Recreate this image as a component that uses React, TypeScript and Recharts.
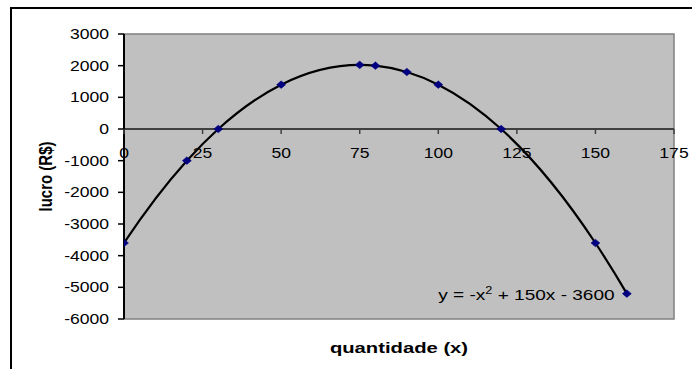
import React from "react";
import {
  ComposedChart,
  XAxis,
  YAxis,
  Line,
  Scatter,
  ReferenceArea,
  ReferenceLine,
  ReferenceDot,
} from "recharts";

const X_VALUES = [0, 20, 30, 50, 75, 80, 90, 100, 120, 150, 160];
const PROFIT = [-3600, -1000, 0, 1400, 2025, 2000, 1800, 1400, 0, -3600, -5200];
const X_TICKS = [0, 25, 50, 75, 100, 125, 150, 175];
const Y_TICKS = [3000, 2000, 1000, 0, -1000, -2000, -3000, -4000, -5000, -6000];
const X_DOMAIN = [0, 175];
const Y_DOMAIN = [-6000, 3000];
const EQ_ANCHOR = { x: 100, y: -5400 };
const X_LABEL = "quantidade (x)";
const Y_LABEL = "lucro (R$)";

const data = X_VALUES.map((x, i) => ({ x, y: PROFIT[i] }));

const FONT = "'Liberation Sans', Arial, sans-serif";
const SX = 1.17;

// Cubic spline y(x) with parabolic run-out end conditions, as a d3-style curve factory
function solve(A: number[][], b: number[]): number[] {
  const n = b.length;
  const M = A.map((r, i) => [...r, b[i]]);
  for (let c = 0; c < n; c++) {
    let p = c;
    for (let r = c + 1; r < n; r++) if (Math.abs(M[r][c]) > Math.abs(M[p][c])) p = r;
    [M[c], M[p]] = [M[p], M[c]];
    for (let r = c + 1; r < n; r++) {
      const f = M[r][c] / M[c][c];
      for (let k = c; k <= n; k++) M[r][k] -= f * M[c][k];
    }
  }
  const x = new Array(n).fill(0);
  for (let r = n - 1; r >= 0; r--) {
    let s = M[r][n];
    for (let k = r + 1; k < n; k++) s -= M[r][k] * x[k];
    x[r] = s / M[r][r];
  }
  return x;
}

function splineCurve(context: any) {
  let xs: number[] = [];
  let ys: number[] = [];
  return {
    areaStart() {},
    areaEnd() {},
    lineStart() {
      xs = [];
      ys = [];
    },
    point(x: number, y: number) {
      xs.push(+x);
      ys.push(+y);
    },
    lineEnd() {
      const n = xs.length;
      if (n === 0) return;
      context.moveTo(xs[0], ys[0]);
      if (n < 3) {
        for (let i = 1; i < n; i++) context.lineTo(xs[i], ys[i]);
        return;
      }
      const h: number[] = [];
      for (let i = 0; i < n - 1; i++) h.push(xs[i + 1] - xs[i]);
      const A: number[][] = [];
      const b: number[] = [];
      for (let i = 0; i < n; i++) {
        const row = new Array(n).fill(0);
        if (i === 0) {
          row[0] = 1;
          row[1] = -1;
          b.push(0);
        } else if (i === n - 1) {
          row[n - 1] = 1;
          row[n - 2] = -1;
          b.push(0);
        } else {
          row[i - 1] = h[i - 1];
          row[i] = 2 * (h[i - 1] + h[i]);
          row[i + 1] = h[i];
          b.push(6 * ((ys[i + 1] - ys[i]) / h[i] - (ys[i] - ys[i - 1]) / h[i - 1]));
        }
        A.push(row);
      }
      const Ms = solve(A, b);
      const d: number[] = [];
      for (let i = 0; i < n - 1; i++) {
        d.push((ys[i + 1] - ys[i]) / h[i] - (h[i] * (2 * Ms[i] + Ms[i + 1])) / 6);
      }
      d.push(
        (ys[n - 1] - ys[n - 2]) / h[n - 2] + (h[n - 2] * (Ms[n - 2] + 2 * Ms[n - 1])) / 6
      );
      for (let i = 0; i < n - 1; i++) {
        const t = h[i] / 3;
        context.bezierCurveTo(
          xs[i] + t,
          ys[i] + d[i] * t,
          xs[i + 1] - t,
          ys[i + 1] - d[i + 1] * t,
          xs[i + 1],
          ys[i + 1]
        );
      }
    },
  };
}

const YTick = (props: any) => {
  const { x, y, payload } = props;
  return (
    <g transform={`translate(${x},${y})`}>
      <text
        transform={`scale(${SX},1)`}
        x={0}
        y={0}
        dy={5}
        textAnchor="end"
        fontSize={15}
        fontFamily={FONT}
        fill="#000"
      >
        {payload.value}
      </text>
    </g>
  );
};

const XTickShape = (value: number) => (props: any) => {
  const { cx, cy } = props;
  return (
    <g>
      <line x1={cx} y1={cy} x2={cx} y2={cy + 5} stroke="#404040" strokeWidth={1.5} />
      <g transform={`translate(${cx},${cy + 29})`}>
        <text
          transform={`scale(${SX},1)`}
          x={0}
          y={0}
          textAnchor="middle"
          fontSize={15}
          fontFamily={FONT}
          fill="#000"
        >
          {value}
        </text>
      </g>
    </g>
  );
};

const Diamond = (props: any) => {
  const { cx, cy } = props;
  if (cx == null || cy == null) return null;
  return (
    <polygon
      points={`${cx},${cy - 3.8} ${cx + 4.5},${cy} ${cx},${cy + 3.8} ${cx - 4.5},${cy}`}
      fill="#000080"
      stroke="#000080"
      strokeWidth={0.5}
    />
  );
};

const EquationShape = (props: any) => {
  const { cx, cy } = props;
  return (
    <g transform={`translate(${cx},${cy})`}>
      <text
        transform="scale(1.27,1)"
        x={0}
        y={0}
        textAnchor="start"
        fontSize={15}
        fontFamily={FONT}
        fill="#000"
      >
        y = -x
        <tspan fontSize={10} dy={-6}>
          2
        </tspan>
        <tspan dy={6}> + 150x - 3600</tspan>
      </text>
    </g>
  );
};

const YLabel = (props: any) => {
  const vb = props.viewBox || {};
  const cy = (vb.y ?? 34) + (vb.height ?? 285) / 2;
  return (
    <g transform={`translate(46,${cy}) rotate(-90)`}>
      <text
        transform={`scale(1,${SX})`}
        x={0}
        y={0}
        dy={5}
        textAnchor="middle"
        fontSize={15}
        fontWeight="bold"
        fontFamily={FONT}
        fill="#000"
      >
        {Y_LABEL}
      </text>
    </g>
  );
};

const XLabel = (props: any) => {
  const vb = props.viewBox || {};
  const cx = (vb.x ?? 124) + (vb.width ?? 550) / 2;
  const top = vb.y ?? 319;
  return (
    <g transform={`translate(${cx},${top + 34})`}>
      <text
        transform="scale(1.35,1)"
        x={0}
        y={0}
        textAnchor="middle"
        fontSize={15}
        fontWeight="bold"
        fontFamily={FONT}
        fill="#000"
      >
        {X_LABEL}
      </text>
    </g>
  );
};

export default function App() {
  return (
    <div
      style={{
        position: "absolute",
        left: 0,
        top: 0,
        width: 692,
        height: 369,
        overflow: "hidden",
        background: "#fff",
      }}
    >
      <div
        style={{
          position: "absolute",
          left: 10,
          top: 7,
          width: 720,
          height: 400,
          borderLeft: "2px solid #000",
          borderTop: "2px solid #000",
        }}
      />
      <div style={{ position: "absolute", left: 0, top: 0 }}>
        <ComposedChart
          width={692}
          height={369}
          data={data}
          margin={{ top: 34, right: 18, bottom: 0, left: 0 }}
        >
          <XAxis
            dataKey="x"
            type="number"
            domain={X_DOMAIN}
            ticks={X_TICKS}
            allowDataOverflow
            axisLine={false}
            tickLine={false}
            tick={false}
            height={50}
            label={{ content: <XLabel /> }}
          />
          <YAxis
            type="number"
            domain={Y_DOMAIN}
            ticks={Y_TICKS}
            interval={0}
            width={124}
            axisLine={{ stroke: "#000", strokeWidth: 2 }}
            tickLine={{ stroke: "#000", strokeWidth: 1.5 }}
            tickSize={6}
            tickMargin={9}
            tick={<YTick />}
            label={{ content: <YLabel /> }}
          />
          <ReferenceArea
            x1={X_DOMAIN[0]}
            x2={X_DOMAIN[1]}
            y1={Y_DOMAIN[0]}
            y2={Y_DOMAIN[1]}
            fill="#c0c0c0"
            fillOpacity={1}
            stroke="#808080"
            strokeWidth={1.5}
          />
          <ReferenceLine y={0} stroke="#404040" strokeWidth={2} />
          {X_TICKS.map((t) => (
            <ReferenceDot
              key={t}
              x={t}
              y={0}
              r={0}
              ifOverflow="visible"
              shape={XTickShape(t)}
            />
          ))}
          <Line
            dataKey="y"
            type={splineCurve as any}
            stroke="#000"
            strokeWidth={2.2}
            dot={false}
            activeDot={false}
            isAnimationActive={false}
          />
          <Scatter dataKey="y" shape={<Diamond />} isAnimationActive={false} />
          <ReferenceDot
            x={EQ_ANCHOR.x}
            y={EQ_ANCHOR.y}
            r={0}
            ifOverflow="visible"
            shape={EquationShape}
          />
        </ComposedChart>
      </div>
    </div>
  );
}
